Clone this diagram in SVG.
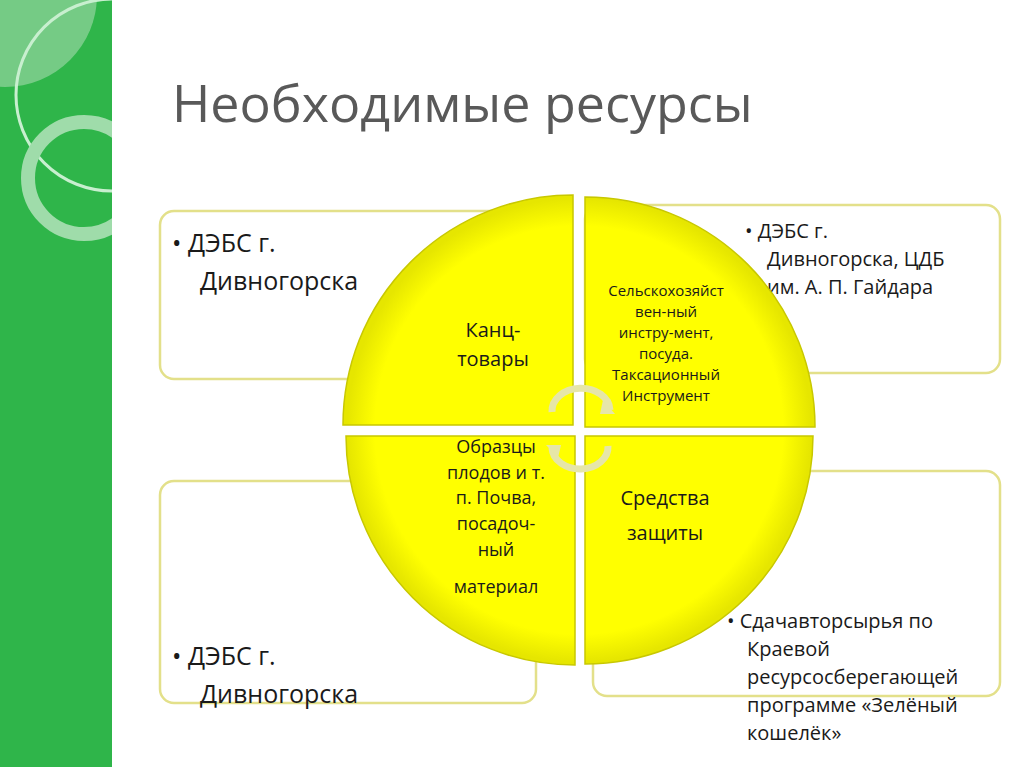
<svg xmlns="http://www.w3.org/2000/svg" width="1024" height="767" viewBox="0 0 1024 767">
<defs>
<radialGradient id="yg" gradientUnits="userSpaceOnUse" cx="579" cy="430" r="232"><stop offset="0.88" stop-color="#ffff00"/><stop offset="1" stop-color="#e6e600"/></radialGradient>
<clipPath id="strip"><rect x="0" y="0" width="112" height="767"/></clipPath>
</defs>
<style>
.box{fill:#fff;stroke:#e3e08a;stroke-width:2.5}
.q{fill:url(#yg);stroke:#c8c800;stroke-width:1.5}
.t{font-family:"Open Sans","Noto Sans",sans-serif;fill:#1a1a1a}
.b{font-size:25px}
.s{font-size:20px}
.c{font-size:15px;text-anchor:middle}
.c2{font-size:18px;text-anchor:middle}
.m{font-size:20px;text-anchor:middle}
.arr{fill:none;stroke:#e6e6a8;stroke-width:7}
</style>
<rect width="1024" height="767" fill="#fff"/>
<g id="strip-deco" clip-path="url(#strip)">
<rect x="0" y="0" width="112" height="767" fill="#2fb54a"/>
<circle cx="5" cy="-5" r="92" fill="#8ed39a" opacity="0.75"/>
<circle cx="112" cy="95" r="96" fill="none" stroke="#c8efcf" stroke-width="3"/>
<circle cx="84" cy="178" r="56" fill="none" stroke="#9fdcaa" stroke-width="14"/>
</g>
<text x="172" y="122" font-family="'Open Sans','Noto Sans',sans-serif" font-size="52" fill="#595959">Необходимые ресурсы</text>
<g id="box-tl"><rect class="box" x="160" y="211" width="360" height="168" rx="14"/>
<text class="t b" x="172" y="252">• ДЭБС г.</text><text class="t b" x="200" y="290">Дивногорска</text></g>
<g id="box-tr"><rect class="box" x="585" y="205" width="415" height="168" rx="14"/>
<text class="t s" x="745" y="238">• ДЭБС г.</text><text class="t s" x="767" y="266">Дивногорска, ЦДБ</text><text class="t s" x="767" y="294">им. А. П. Гайдара</text></g>
<g id="box-bl"><rect class="box" x="160" y="481" width="376" height="222" rx="14"/>
<text class="t b" x="172" y="665">• ДЭБС г.</text><text class="t b" x="200" y="703">Дивногорска</text></g>
<g id="box-br"><rect class="box" x="593" y="471" width="407" height="225" rx="14"/>
<text class="t s" x="727" y="628">• Сдачавторсырья по</text><text class="t s" x="747" y="656">Краевой</text><text class="t s" x="747" y="684">ресурсосберегающей</text><text class="t s" x="747" y="712">программе «Зелёный</text><text class="t s" x="747" y="740">кошелёк»</text></g>
<g id="q-tl"><path class="q" d="M573 425 L343 425 A230 230 0 0 1 573 195 Z"/>
<text class="t m" x="493" y="337">Канц-</text><text class="t m" x="493" y="366">товары</text></g>
<g id="q-tr"><path class="q" d="M585 427 L585 197 A230 230 0 0 1 815 427 Z"/>
<text class="t c" x="666" y="296">Сельскохозяйст</text><text class="t c" x="666" y="317">вен-ный</text><text class="t c" x="666" y="338">инстру-мент,</text><text class="t c" x="666" y="359">посуда.</text><text class="t c" x="666" y="380">Таксационный</text><text class="t c" x="666" y="401">Инструмент</text></g>
<g id="q-bl"><path class="q" d="M575 436 L575 665 A229 229 0 0 1 346 436 Z"/>
<text class="t c2" x="496" y="453">Образцы</text><text class="t c2" x="496" y="479">плодов и т.</text><text class="t c2" x="496" y="504">п. Почва,</text><text class="t c2" x="496" y="530">посадоч-</text><text class="t c2" x="496" y="556">ный</text><text class="t c2" x="496" y="593">материал</text></g>
<g id="q-br"><path class="q" d="M585 436 L813 436 A228 228 0 0 1 585 664 Z"/>
<text class="t m" x="665" y="505">Средства</text><text class="t m" x="665" y="540">защиты</text></g>
<g id="connectors">
<path class="arr" d="M552 412 A28 22 0 0 1 610 410"/>
<path d="M603 400 L615 414 L600 414 Z" fill="#e6e6a8"/>
<path class="arr" d="M608 446 A28 22 0 0 1 552 448"/>
<path d="M558 458 L546 445 L561 445 Z" fill="#e6e6a8"/>
</g>
</svg>
